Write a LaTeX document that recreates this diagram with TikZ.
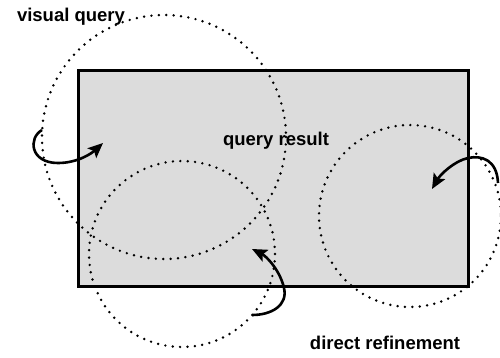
\documentclass[tikz,border=0pt]{standalone}
\usepackage{fontspec}
\setmainfont{Liberation Sans}
\usetikzlibrary{arrows.meta}
\definecolor{panelgray}{RGB}{220,220,220}
\tikzset{
  lens/.style={line width=2.7pt, line cap=round, dash pattern=on 0pt off 7.4pt},
  turn/.style={line width=2.6pt, -{Stealth[length=15pt,width=13pt,inset=3pt]}},
  caption/.style={font=\bfseries\fontsize{18.5}{20}\selectfont, anchor=base, inner sep=0pt}
}
\begin{document}
\begin{tikzpicture}[x=1pt,y=-1pt]
  \useasboundingbox (0,0) rectangle (500,357);
  \clip (0,0) rectangle (500,357);

  % result panel
  \node[draw, line width=2.8pt, fill=panelgray, minimum width=390pt, minimum height=216pt,
        inner sep=0pt, anchor=north west] (panel) at (77,69) {};

  % lenses over the panel
  \draw[lens] (164,137) circle[radius=122];
  \draw[lens] (182,254) circle[radius=93];
  \draw[lens] (410,216) circle[radius=91];

  % labels
  \node[caption] (vq) at (71,21) {visual query};
  \node[caption] (qr) at (276,145) {query result};
  \node[caption] (dr) at (385,349) {direct refinement};

  % curved arrows
  \coordinate (a1s) at (42,130);
  \coordinate (a1e) at (103,143);
  \draw[turn] (a1s) .. controls (28,138) and (30,163) .. (58,163)
                    .. controls (78,163) and (92,153) .. (a1e);

  \coordinate (a2s) at (252,315);
  \coordinate (a2e) at (252,249);
  \draw[turn] (a2s) .. controls (272,315) and (288,305) .. (284,288)
                    .. controls (280,270) and (266,256) .. (a2e);

  \coordinate (a3s) at (498,183);
  \coordinate (a3e) at (432,189);
  \draw[turn] (a3s) .. controls (497,160) and (482,155) .. (468,158)
                    .. controls (454,161) and (440,175) .. (a3e);
\end{tikzpicture}
\end{document}
